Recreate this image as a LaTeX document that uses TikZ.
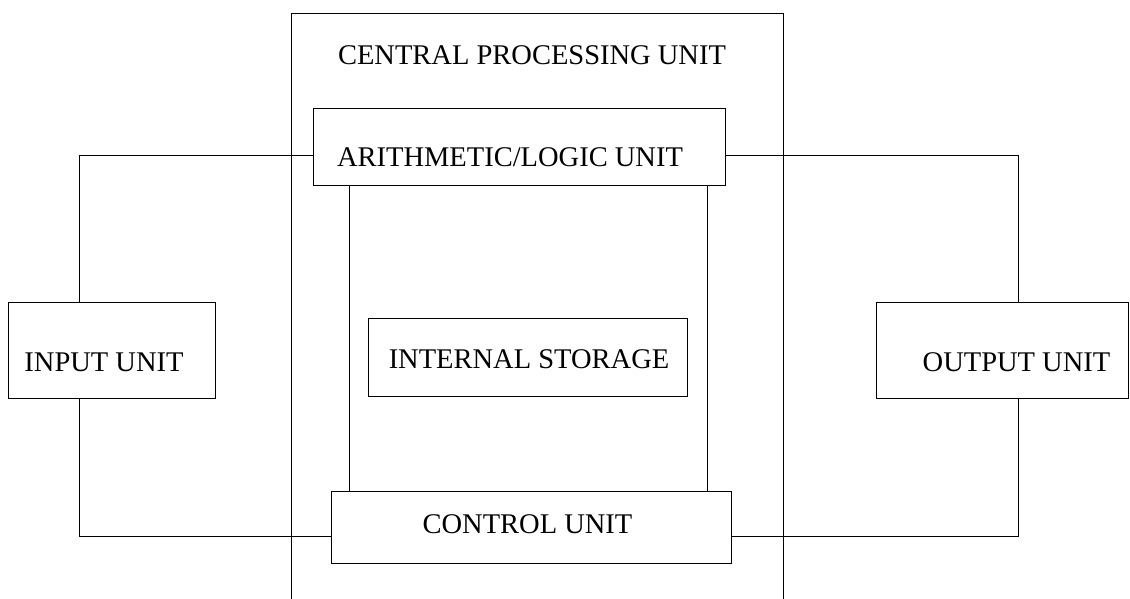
\documentclass[tikz,border=0pt]{standalone}
\usepackage{fontspec}
\setmainfont{Liberation Serif}
\begin{document}
\begin{tikzpicture}[x=1pt,y=-1pt,
  line width=0.9pt,
  box/.style={draw, rectangle, inner sep=0pt, line width=0.9pt},
  lbl/.style={anchor=base, inner sep=0pt, font=\fontsize{28.5}{30}\selectfont}]
\useasboundingbox (0,0) rectangle (1130,599);
% CPU enclosure (open at the bottom)
\coordinate (cpuBL) at (291,599);
\coordinate (cpuTL) at (291,13);
\coordinate (cpuTR) at (783,13);
\coordinate (cpuBR) at (783,599);
\draw (cpuBL) -- (cpuTL) -- (cpuTR) -- (cpuBR);
\node[lbl] (cpuT) at (532,65) {CENTRAL PROCESSING UNIT};
% boxes
\node[box, minimum width=412pt, minimum height=77pt] (alu) at (519,146.5) {};
\node[lbl] (aluT) at (510,167) {ARITHMETIC/LOGIC UNIT};
\node[box, minimum width=319pt, minimum height=78pt] (sto) at (527.5,357) {};
\node[lbl] (stoT) at (529,368) {INTERNAL STORAGE};
\node[box, minimum width=400pt, minimum height=72pt] (ctl) at (531,527) {};
\node[lbl] (ctlT) at (527.5,533) {CONTROL UNIT};
\node[box, minimum width=207pt, minimum height=96pt] (inp) at (111.5,350) {};
\node[lbl] (inpT) at (104,371) {INPUT UNIT};
\node[box, minimum width=252pt, minimum height=96pt] (out) at (1002,350) {};
\node[lbl] (outT) at (1016.5,371) {OUTPUT UNIT};
% inner verticals between ALU and control unit
\draw (alu.south -| 349,0) -- (ctl.north -| 349,0);
\draw (alu.south -| 707,0) -- (ctl.north -| 707,0);
% left loop
\draw ([yshift=-8.5pt]alu.west) -| ([xshift=-32.5pt]inp.north);
\draw ([xshift=-32.5pt]inp.south) |- ([yshift=-9.5pt]ctl.west);
% right loop
\draw ([yshift=-8.5pt]alu.east) -| ([xshift=16pt]out.north);
\draw ([xshift=16pt]out.south) |- ([yshift=-9pt]ctl.east);
\end{tikzpicture}
\end{document}
